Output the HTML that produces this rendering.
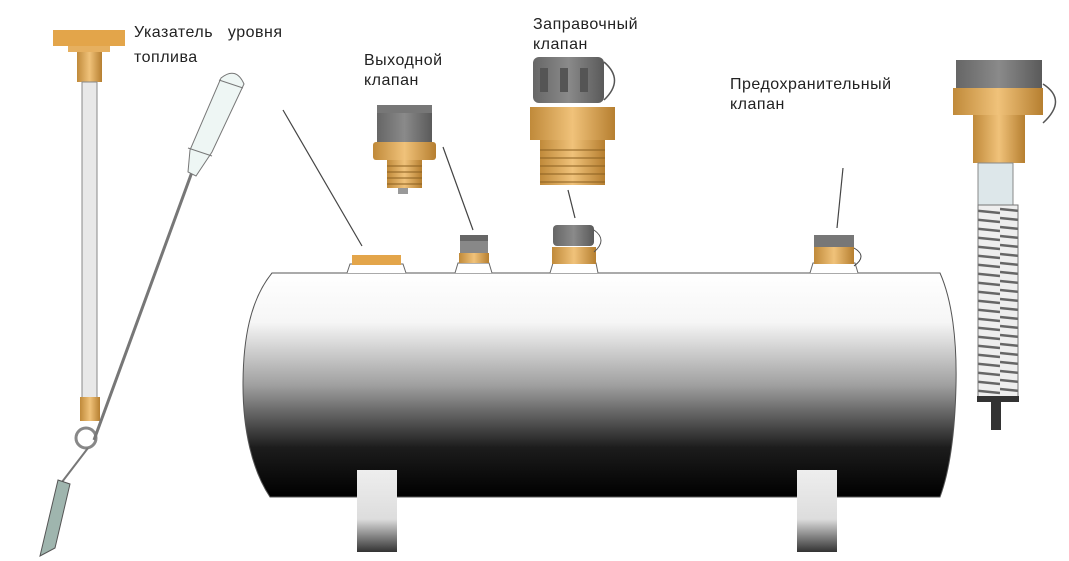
<!DOCTYPE html>
<html><head><meta charset="utf-8"><style>
html,body{margin:0;padding:0;background:#fff;width:1069px;height:561px;overflow:hidden}
svg{display:block}
text{font-family:"Liberation Sans",sans-serif;font-size:16px;fill:#222;letter-spacing:0.5px}
</style></head><body>
<svg width="1069" height="561" viewBox="0 0 1069 561">
<defs>
<linearGradient id="tank" x1="0" y1="0" x2="0" y2="1">
<stop offset="0" stop-color="#fff"/><stop offset="0.22" stop-color="#f6f6f6"/><stop offset="0.5" stop-color="#a0a0a0"/><stop offset="0.78" stop-color="#1c1c1c"/><stop offset="1" stop-color="#000"/></linearGradient>
<linearGradient id="leg" x1="0" y1="0" x2="0" y2="1">
<stop offset="0" stop-color="#eee"/><stop offset="0.6" stop-color="#ddd"/><stop offset="1" stop-color="#333"/></linearGradient>
<linearGradient id="brass" x1="0" y1="0" x2="1" y2="0">
<stop offset="0" stop-color="#c08a3a"/><stop offset="0.5" stop-color="#f0c27a"/><stop offset="1" stop-color="#b67f30"/></linearGradient>
<linearGradient id="gray" x1="0" y1="0" x2="1" y2="0">
<stop offset="0" stop-color="#666"/><stop offset="0.5" stop-color="#8a8a8a"/><stop offset="1" stop-color="#5a5a5a"/></linearGradient>
<pattern id="spring" width="40" height="9" patternUnits="userSpaceOnUse">
<rect width="40" height="9" fill="#eee"/><path d="M0 2 L40 6" stroke="#666" stroke-width="2.5"/></pattern>
</defs>

<!-- tank -->
<path d="M272 273 L940 273 C952 300 957 340 956 385 C955 430 950 470 940 497 L270 497 C252 470 243 430 243 385 C243 340 250 300 272 273 Z" fill="url(#tank)" stroke="#555" stroke-width="1"/>
<rect x="357" y="470" width="40" height="82" fill="url(#leg)"/>
<rect x="797" y="470" width="40" height="82" fill="url(#leg)"/>
<!-- bumps -->
<path d="M347 273 L350 264 L403 264 L406 273" fill="#fff" stroke="#666"/>
<rect x="352" y="255" width="49" height="10" fill="#e3a54a"/>
<path d="M455 273 L458 263 L489 263 L492 273" fill="#fff" stroke="#666"/>
<rect x="460" y="235" width="28" height="6" fill="#666"/><rect x="460" y="241" width="28" height="12" fill="#888"/><rect x="459" y="253" width="30" height="10" fill="url(#brass)"/>
<path d="M550 273 L553 263 L596 263 L598 273" fill="#fff" stroke="#666"/>
<rect x="553" y="225" width="41" height="21" rx="4" fill="url(#gray)"/><rect x="552" y="247" width="44" height="17" fill="url(#brass)"/>
<path d="M594 230 Q608 240 594 252" fill="none" stroke="#555"/>
<path d="M810 273 L813 263 L855 263 L858 273" fill="#fff" stroke="#666"/>
<rect x="814" y="235" width="40" height="12" fill="#777"/><rect x="814" y="247" width="40" height="17" fill="url(#brass)"/>
<path d="M854 248 Q868 256 854 266" fill="none" stroke="#444"/>

<!-- leader lines -->
<g stroke="#444" stroke-width="1.2">
<line x1="283" y1="110" x2="362" y2="246"/><line x1="443" y1="147" x2="473" y2="230"/>
<line x1="568" y1="190" x2="575" y2="218"/><line x1="843" y1="168" x2="837" y2="228"/></g>

<!-- level gauge -->
<rect x="53" y="30" width="72" height="16" fill="#e3a54a"/>
<rect x="68" y="46" width="42" height="6" fill="#e6b060"/>
<rect x="77" y="52" width="25" height="30" fill="url(#brass)"/>
<rect x="82" y="82" width="15" height="316" fill="#e8e8e8" stroke="#888"/>
<rect x="80" y="397" width="20" height="24" fill="url(#brass)"/>
<circle cx="86" cy="438" r="10" fill="none" stroke="#888" stroke-width="3"/>
<line x1="88" y1="448" x2="62" y2="482" stroke="#777" stroke-width="2"/>
<path d="M58 480 L70 484 L55 548 L40 556 Z" fill="#9fb5ae" stroke="#555"/>
<line x1="192" y1="172" x2="94" y2="440" stroke="#777" stroke-width="3"/>
<path d="M221 78 Q236 66 244 84 L212 152 L196 176 L188 172 L190 150 Z" fill="#eef6f4" stroke="#777"/>
<line x1="219" y1="80" x2="243" y2="88" stroke="#777"/>
<line x1="188" y1="148" x2="212" y2="156" stroke="#777"/>

<!-- output valve big -->
<rect x="377" y="105" width="55" height="8" fill="#777"/><rect x="377" y="113" width="55" height="29" fill="url(#gray)"/>
<rect x="373" y="142" width="63" height="18" rx="3" fill="url(#brass)"/>
<rect x="387" y="160" width="35" height="28" fill="url(#brass)"/>
<g stroke="#8a5f20" stroke-width="1"><line x1="387" y1="166" x2="422" y2="166"/><line x1="387" y1="172" x2="422" y2="172"/><line x1="387" y1="178" x2="422" y2="178"/><line x1="387" y1="184" x2="422" y2="184"/></g>
<rect x="398" y="188" width="10" height="6" fill="#999"/>

<!-- filling valve big -->
<rect x="533" y="57" width="71" height="46" rx="6" fill="url(#gray)"/>
<g fill="#555"><rect x="540" y="68" width="8" height="24"/><rect x="560" y="68" width="8" height="24"/><rect x="580" y="68" width="8" height="24"/></g>
<path d="M604 62 Q625 80 604 100" fill="none" stroke="#555" stroke-width="1.5"/>
<rect x="530" y="107" width="85" height="33" fill="url(#brass)"/>
<rect x="540" y="140" width="65" height="45" fill="url(#brass)"/>
<g stroke="#8a5f20"><line x1="540" y1="150" x2="605" y2="150"/><line x1="540" y1="158" x2="605" y2="158"/><line x1="540" y1="166" x2="605" y2="166"/><line x1="540" y1="174" x2="605" y2="174"/><line x1="540" y1="182" x2="605" y2="182"/></g>

<!-- safety valve big -->
<rect x="956" y="60" width="86" height="28" fill="url(#gray)"/>
<rect x="953" y="88" width="90" height="27" fill="url(#brass)"/>
<path d="M1043 84 Q1068 100 1043 123" fill="none" stroke="#555" stroke-width="1.5"/>
<rect x="973" y="115" width="52" height="48" fill="url(#brass)"/>
<rect x="978" y="163" width="35" height="42" fill="#dde7ea" stroke="#888"/>
<rect x="978" y="205" width="40" height="193" fill="url(#spring)" stroke="#777"/>
<rect x="977" y="396" width="42" height="6" fill="#333"/>
<rect x="991" y="402" width="10" height="28" fill="#333"/>

<!-- labels -->
<text x="134" y="37">Указатель&#160;&#160;&#160;уровня</text>
<text x="134" y="62">топлива</text>
<text x="364" y="65">Выходной</text>
<text x="364" y="85">клапан</text>
<text x="533" y="29">Заправочный</text>
<text x="533" y="49">клапан</text>
<text x="730" y="89">Предохранительный</text>
<text x="730" y="109">клапан</text>
</svg>
</body></html>
